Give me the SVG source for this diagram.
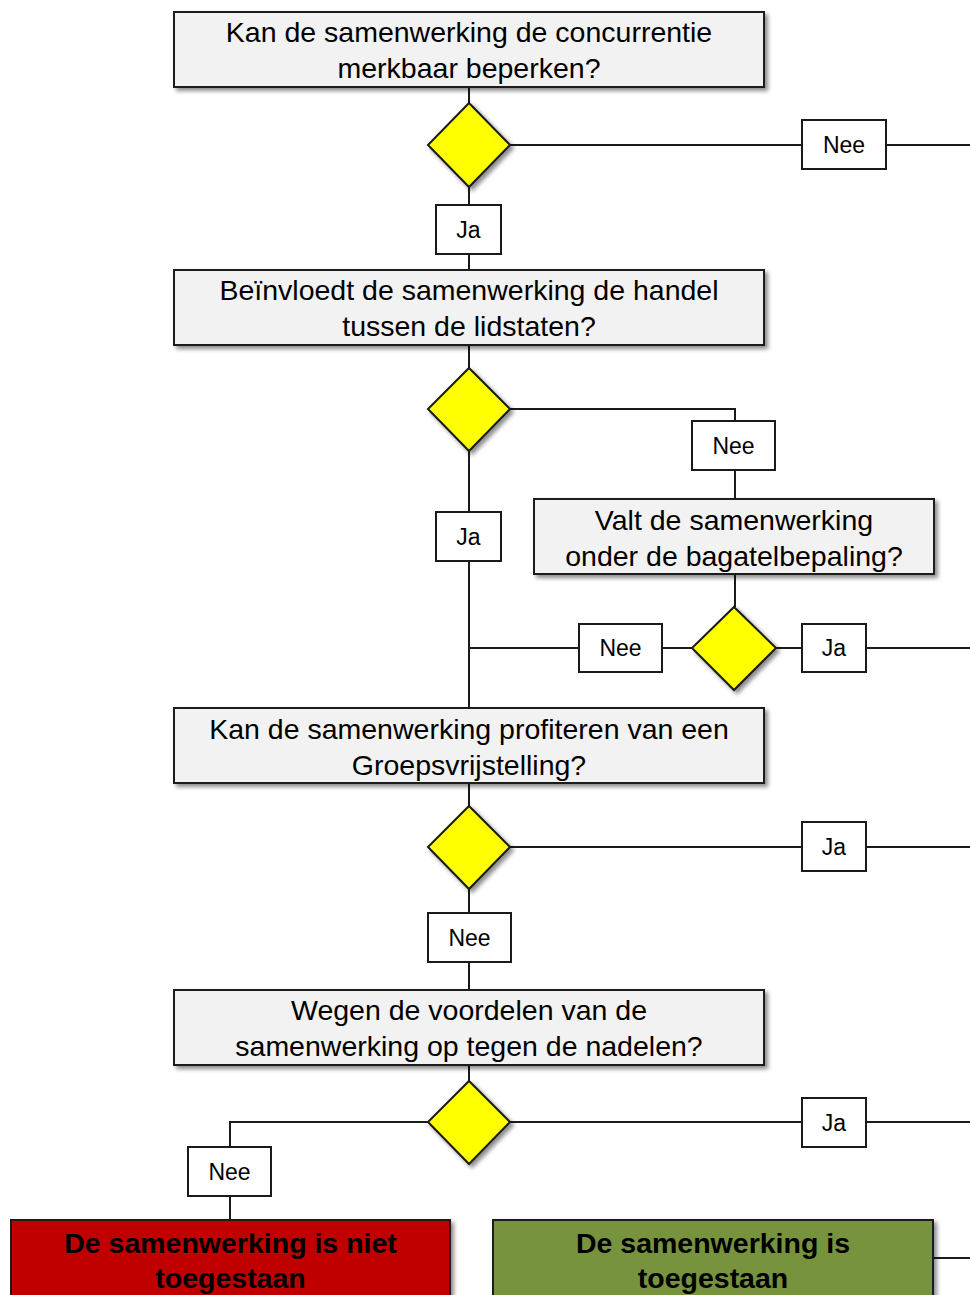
<svg xmlns="http://www.w3.org/2000/svg" width="970" height="1295" viewBox="0 0 970 1295" xml:space="preserve">
<defs>
<filter id="sh" x="-10%" y="-20%" width="130%" height="150%">
<feDropShadow dx="3" dy="3" stdDeviation="2" flood-color="#000" flood-opacity="0.45"/>
</filter>
</defs>
<style>
.q{fill:#F2F2F2;stroke:#1a1a1a;stroke-width:2;filter:url(#sh)}
.d{fill:#FFFF00;stroke:#1a1a1a;stroke-width:2;filter:url(#sh)}
.l{fill:#fff;stroke:#1a1a1a;stroke-width:2}
.t{font-family:"Liberation Sans",Arial,sans-serif;font-size:28.5px;fill:#000;text-anchor:middle}
.s{font-family:"Liberation Sans",Arial,sans-serif;font-size:23px;fill:#000;text-anchor:middle}
.b{font-family:"Liberation Sans",Arial,sans-serif;font-size:28.5px;font-weight:bold;fill:#000;text-anchor:middle}
.c{fill:none;stroke:#1a1a1a;stroke-width:2}
</style>
<rect width="970" height="1295" fill="#fff"/>
<g id="connectors">
<path class="c" d="M469 87V103"/>
<path class="c" d="M510 145H970"/>
<path class="c" d="M469 187V270"/>
<path class="c" d="M469 345V368"/>
<path class="c" d="M510 409H735V499"/>
<path class="c" d="M469 451V708"/>
<path class="c" d="M735 574V607"/>
<path class="c" d="M469 648H692"/>
<path class="c" d="M776 648H970"/>
<path class="c" d="M469 783V806"/>
<path class="c" d="M510 847H970"/>
<path class="c" d="M469 889V990"/>
<path class="c" d="M469 1065V1081"/>
<path class="c" d="M428 1122H230V1220"/>
<path class="c" d="M510 1122H970"/>
<path class="c" d="M933 1258H970"/>
</g>
<g id="q1"><rect class="q" x="174" y="12" width="590" height="75"/><text class="t" x="469" y="42">Kan de samenwerking  de concurrentie</text><text class="t" x="469" y="78">merkbaar beperken?</text></g>
<g id="d1"><polygon class="d" points="469,103 510,145 469,187 428,145"/></g>
<g id="nee1"><rect class="l" x="802" y="120" width="84" height="49"/><text class="s" x="844" y="153">Nee</text></g>
<g id="ja1"><rect class="l" x="436" y="205" width="65" height="49"/><text class="s" x="468.5" y="238">Ja</text></g>
<g id="q2"><rect class="q" x="174" y="270" width="590" height="75"/><text class="t" x="469" y="300">Beïnvloedt  de samenwerking  de handel</text><text class="t" x="469" y="336">tussen de lidstaten?</text></g>
<g id="d2"><polygon class="d" points="469,368 510,409 469,451 428,409"/></g>
<g id="nee2"><rect class="l" x="692" y="421" width="83" height="49"/><text class="s" x="733.5" y="454">Nee</text></g>
<g id="ja2"><rect class="l" x="436" y="512" width="65" height="49"/><text class="s" x="468.5" y="545">Ja</text></g>
<g id="q3"><rect class="q" x="534" y="499" width="400" height="75"/><text class="t" x="734" y="530">Valt de samenwerking</text><text class="t" x="734" y="566">onder de bagatelbepaling?</text></g>
<g id="d3"><polygon class="d" points="734,607 776,648 734,690 692,648"/></g>
<g id="nee3"><rect class="l" x="579" y="624" width="83" height="48"/><text class="s" x="620.5" y="656">Nee</text></g>
<g id="ja3"><rect class="l" x="802" y="624" width="64" height="48"/><text class="s" x="834" y="656">Ja</text></g>
<g id="q4"><rect class="q" x="174" y="708" width="590" height="75"/><text class="t" x="469" y="739">Kan de samenwerking  profiteren van een</text><text class="t" x="469" y="775">Groepsvrijstelling?</text></g>
<g id="d4"><polygon class="d" points="469,806 510,847 469,889 428,847"/></g>
<g id="ja4"><rect class="l" x="802" y="822" width="64" height="49"/><text class="s" x="834" y="855">Ja</text></g>
<g id="nee4"><rect class="l" x="428" y="913" width="83" height="49"/><text class="s" x="469.5" y="946">Nee</text></g>
<g id="q5"><rect class="q" x="174" y="990" width="590" height="75"/><text class="t" x="469" y="1020">Wegen de voordelen van de</text><text class="t" x="469" y="1056">samenwerking  op tegen de nadelen?</text></g>
<g id="d5"><polygon class="d" points="469,1081 510,1122 469,1164 428,1122"/></g>
<g id="ja5"><rect class="l" x="802" y="1098" width="64" height="49"/><text class="s" x="834" y="1131">Ja</text></g>
<g id="nee5"><rect class="l" x="188" y="1147" width="83" height="49"/><text class="s" x="229.5" y="1180">Nee</text></g>
<g id="niet"><rect x="11" y="1220" width="439" height="90" fill="#C00000" stroke="#1a1a1a" stroke-width="2" filter="url(#sh)"/><text class="b" x="230.5" y="1253">De samenwerking is niet</text><text class="b" x="230.5" y="1288">toegestaan</text></g>
<g id="wel"><rect x="493" y="1220" width="440" height="90" fill="#77933C" stroke="#1a1a1a" stroke-width="2" filter="url(#sh)"/><text class="b" x="713" y="1253">De samenwerking is</text><text class="b" x="713" y="1288">toegestaan</text></g>
</svg>
